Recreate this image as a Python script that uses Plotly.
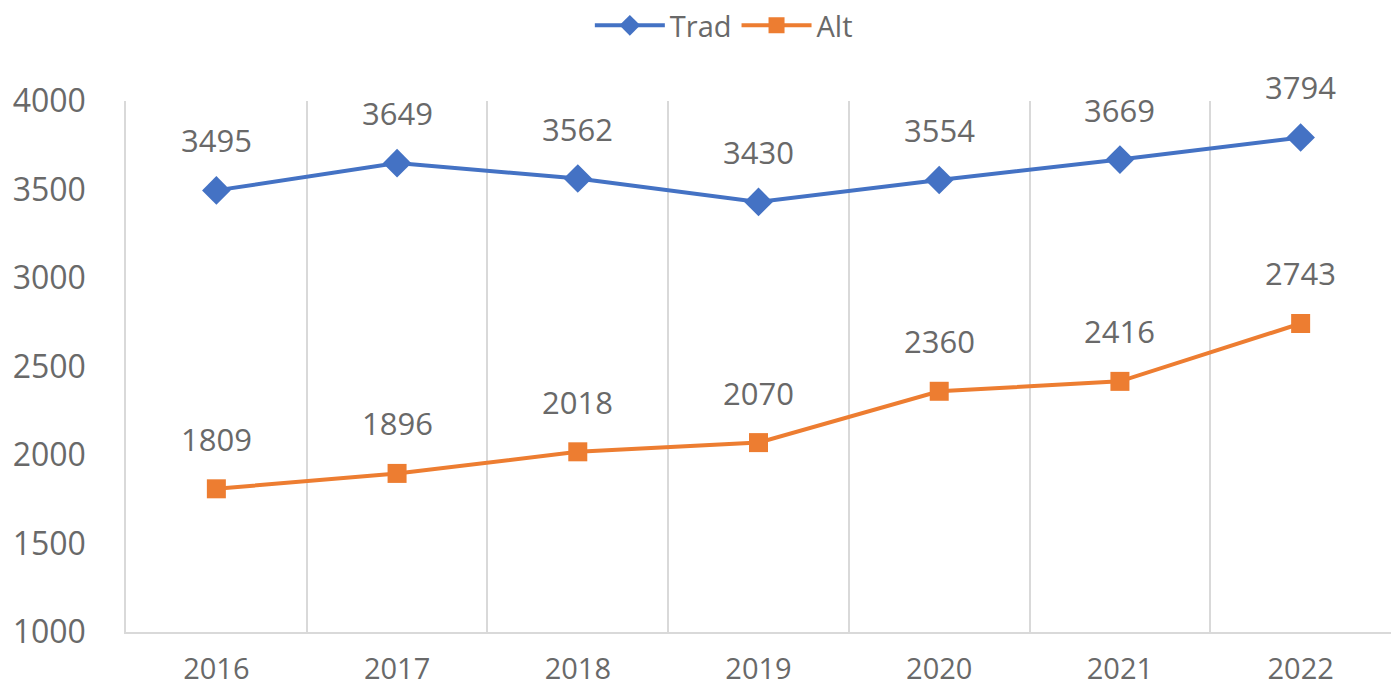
import plotly.graph_objects as go

years = ["2016", "2017", "2018", "2019", "2020", "2021", "2022"]
trad = [3495, 3649, 3562, 3430, 3554, 3669, 3794]
alt = [1809, 1896, 2018, 2070, 2360, 2416, 2743]

BLUE = "#4472C4"
ORANGE = "#ED7D31"
GRAY = "#696969"
GRID = "#D9D9D9"
FONT = "Open Sans"

fig = go.Figure()
fig.add_trace(go.Scatter(x=years, y=trad, name="Trad", mode="lines+markers",
                         line=dict(color=BLUE, width=4),
                         marker=dict(symbol="diamond", size=22, color=BLUE)))
fig.add_trace(go.Scatter(x=years, y=alt, name="Alt", mode="lines+markers",
                         line=dict(color=ORANGE, width=4),
                         marker=dict(symbol="square", size=19, color=ORANGE)))

for series in (trad, alt):
    for i, y in enumerate(series):
        fig.add_annotation(x=i, y=y, xref="x", yref="y", text=str(y), showarrow=False,
                           yshift=50, font=dict(family=FONT, size=31, color=GRAY))

fig.update_layout(
    width=1392, height=692,
    margin=dict(l=126, r=1, t=101, b=60, autoexpand=False),
    paper_bgcolor="white", plot_bgcolor="white",
    font=dict(family=FONT, size=30, color=GRAY),
    showlegend=True,
    legend=dict(orientation="h", x=0.52, xref="container", xanchor="center",
                y=1.0, yref="container", yanchor="top",
                font=dict(size=29, color=GRAY), itemwidth=70,
                bgcolor="rgba(0,0,0,0)"),
)
fig.update_xaxes(type="category", range=[-0.5, 6.5], showgrid=True, gridcolor=GRID, gridwidth=1.5,
                 tickson="boundaries", ticks="", showline=True, linecolor=GRID, linewidth=1.5,
                 tickfont=dict(family=FONT, size=29, color=GRAY), ticklabelstandoff=10,
                 zeroline=False, automargin=False)
fig.update_yaxes(range=[1000, 4000], dtick=500, showgrid=False, zeroline=False,
                 showline=True, linecolor=GRID, linewidth=1.5, ticks="",
                 tickfont=dict(family=FONT, size=32, color=GRAY), ticklabelstandoff=32,
                 automargin=False)

fig.write_html("out.html", config={"displayModeBar": False},
               post_script="document.body.style.margin='0';document.body.style.overflow='hidden';")
